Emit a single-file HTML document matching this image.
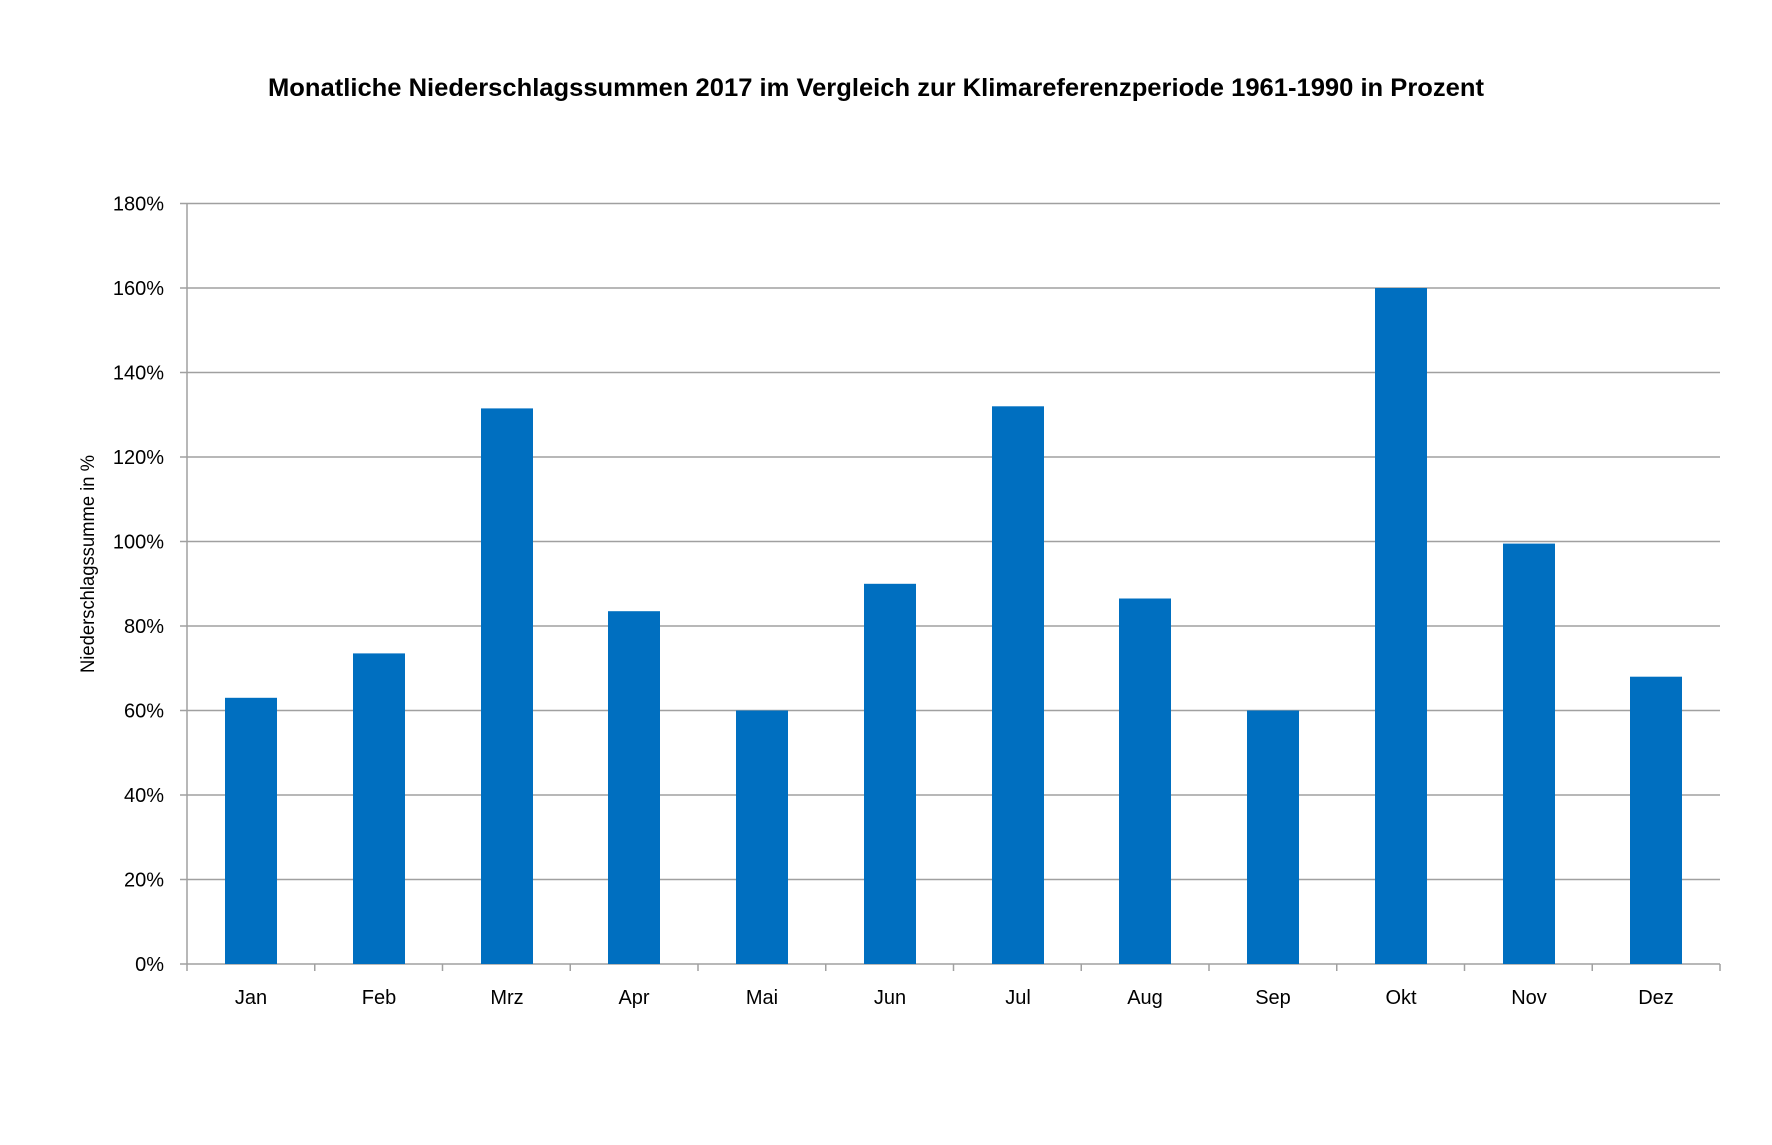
<!DOCTYPE html>
<html><head><meta charset="utf-8"><style>body{margin:0;background:#fff}svg{display:block}</style></head>
<body>
<svg width="1772" height="1145" viewBox="0 0 1772 1145" xmlns="http://www.w3.org/2000/svg" font-family="'Liberation Sans', sans-serif">
<rect width="1772" height="1145" fill="#fff"/>
<text x="876" y="96" text-anchor="middle" font-weight="bold" font-size="25" textLength="1216" lengthAdjust="spacingAndGlyphs" fill="#000">Monatliche Niederschlagssummen 2017 im Vergleich zur Klimareferenzperiode 1961-1990 in Prozent</text>
<g stroke="#a0a0a0" stroke-width="1.5">
<line x1="180" y1="203.5" x2="1720" y2="203.5"/>
<line x1="180" y1="288" x2="1720" y2="288"/>
<line x1="180" y1="372.5" x2="1720" y2="372.5"/>
<line x1="180" y1="457" x2="1720" y2="457"/>
<line x1="180" y1="541.5" x2="1720" y2="541.5"/>
<line x1="180" y1="626" x2="1720" y2="626"/>
<line x1="180" y1="710.5" x2="1720" y2="710.5"/>
<line x1="180" y1="795" x2="1720" y2="795"/>
<line x1="180" y1="879.5" x2="1720" y2="879.5"/>
<line x1="180" y1="964" x2="1720" y2="964"/>
<line x1="187" y1="203.5" x2="187" y2="964"/>
</g>
<g stroke="#a0a0a0" stroke-width="1.5">
<line x1="187" y1="964" x2="187" y2="971"/><line x1="314.75" y1="964" x2="314.75" y2="971"/><line x1="442.5" y1="964" x2="442.5" y2="971"/><line x1="570.25" y1="964" x2="570.25" y2="971"/><line x1="698" y1="964" x2="698" y2="971"/><line x1="825.75" y1="964" x2="825.75" y2="971"/><line x1="953.5" y1="964" x2="953.5" y2="971"/><line x1="1081.25" y1="964" x2="1081.25" y2="971"/><line x1="1209" y1="964" x2="1209" y2="971"/><line x1="1336.75" y1="964" x2="1336.75" y2="971"/><line x1="1464.5" y1="964" x2="1464.5" y2="971"/><line x1="1592.25" y1="964" x2="1592.25" y2="971"/><line x1="1720" y1="964" x2="1720" y2="971"/>
</g>
<g fill="#006fc0">
<rect x="225" y="697.8" width="52" height="266.2"/>
<rect x="353" y="653.4" width="52" height="310.6"/>
<rect x="481" y="408.4" width="52" height="555.6"/>
<rect x="608" y="611.2" width="52" height="352.8"/>
<rect x="736" y="710.5" width="52" height="253.5"/>
<rect x="864" y="583.8" width="52" height="380.2"/>
<rect x="992" y="406.3" width="52" height="557.7"/>
<rect x="1119" y="598.5" width="52" height="365.5"/>
<rect x="1247" y="710.5" width="52" height="253.5"/>
<rect x="1375" y="288" width="52" height="676"/>
<rect x="1503" y="543.6" width="52" height="420.4"/>
<rect x="1630" y="676.7" width="52" height="287.3"/>
</g>
<g font-size="20" text-anchor="end" fill="#000">
<text x="164" y="210.5">180%</text><text x="164" y="295">160%</text><text x="164" y="379.5">140%</text><text x="164" y="464">120%</text><text x="164" y="548.5">100%</text><text x="164" y="633">80%</text><text x="164" y="717.5">60%</text><text x="164" y="802">40%</text><text x="164" y="886.5">20%</text><text x="164" y="971">0%</text>
</g>
<g font-size="20" text-anchor="middle" fill="#000">
<text x="251" y="1004">Jan</text><text x="379" y="1004">Feb</text><text x="507" y="1004">Mrz</text><text x="634" y="1004">Apr</text><text x="762" y="1004">Mai</text><text x="890" y="1004">Jun</text><text x="1018" y="1004">Jul</text><text x="1145" y="1004">Aug</text><text x="1273" y="1004">Sep</text><text x="1401" y="1004">Okt</text><text x="1529" y="1004">Nov</text><text x="1656" y="1004">Dez</text>
</g>
<text x="0" y="0" font-size="19" text-anchor="middle" transform="translate(94,564) rotate(-90)" textLength="218" lengthAdjust="spacingAndGlyphs" fill="#000">Niederschlagssumme in %</text>
</svg>
</body></html>
